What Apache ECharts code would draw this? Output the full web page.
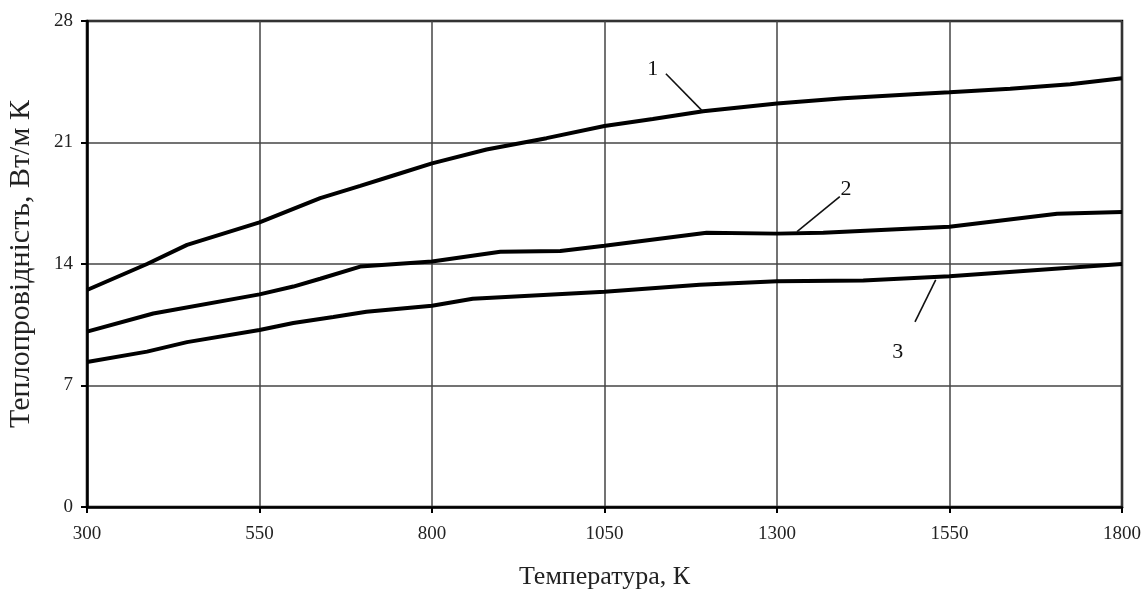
<!DOCTYPE html>
<html>
<head>
<meta charset="utf-8">
<script src="https://cdn.jsdelivr.net/npm/echarts@6/dist/echarts.min.js"></script>
<style>html,body{margin:0;padding:0;background:#fff}#c{width:1145px;height:589px}</style>
</head>
<body>
<div id="c"></div>
<script>
// Curve 1
var temps1 = [300,387,445,550,638,696,744,800,879,966,1050,1120,1193,1300,1396,1503,1550,1638,1725,1800];
var k1 = [12.5,14.0,15.1,16.4,17.8,18.5,19.1,19.8,20.6,21.25,21.95,22.35,22.8,23.25,23.55,23.8,23.9,24.1,24.35,24.7];
// Curve 2
var temps2 = [300,396,550,599,638,696,800,899,986,1050,1198,1300,1367,1550,1706,1800];
var k2 = [10.1,11.15,12.25,12.7,13.15,13.85,14.15,14.7,14.75,15.05,15.8,15.75,15.8,16.15,16.9,17.0];
// Curve 3
var temps3 = [300,387,445,550,599,657,705,800,859,1050,1188,1300,1425,1550,1800];
var k3 = [8.35,8.95,9.5,10.2,10.6,10.95,11.25,11.6,12.0,12.4,12.8,13.0,13.05,13.3,14.0];
// Curve labels and leader lines (data coordinates)
var curveNames = ['1','2','3'];
var leaderStart = [[1139,24.96],[1391,17.88],[1500,10.67]];
var leaderEnd = [[1191,22.85],[1329,15.86],[1530,13.08]];
var labelPos = [[1120,25.2],[1400,18.3],[1475,8.9]];

var xTicks = [300,550,800,1050,1300,1550,1800];
var yTicks = [0,7,14,21,28];

function pairs(xs, ys){ return xs.map(function(x,i){return [x, ys[i]];}); }
var allX = [temps1,temps2,temps3], allY = [k1,k2,k3];
var FONT = '"Liberation Serif", "DejaVu Serif", serif';

var series = allX.map(function(xs, i){
  return {
    type:'line', name: curveNames[i], data: pairs(xs, allY[i]),
    showSymbol:false, smooth:false,
    lineStyle:{color:'#000', width:4},
    markLine:{
      silent:true, symbol:['none','none'],
      lineStyle:{color:'#111', width:1.6, type:'solid'},
      label:{show:false},
      data:[[{coord:leaderStart[i]},{coord:leaderEnd[i]}]]
    },
    markPoint:{
      silent:true, symbol:'circle', symbolSize:0,
      label:{show:true, formatter:curveNames[i], color:'#111', fontSize:22, fontFamily:FONT, position:'inside'},
      data:[{coord:labelPos[i]}]
    }
  };
});

var chart = echarts.init(document.getElementById('c'));
chart.setOption({
  animation:false,
  backgroundColor:'#fff',
  grid:{left:87, right:23, top:21, bottom:82, show:true, borderColor:'#000', borderWidth:2.5,
        containLabel:false, outerBoundsMode:'none'},
  xAxis:{
    type:'value', min:300, max:1800, interval:250,
    name:'Температура, К', nameLocation:'middle', nameGap:57,
    nameTextStyle:{color:'#222', fontSize:26, fontFamily:FONT},
    axisLine:{show:true, lineStyle:{color:'#000', width:2.5}},
    axisTick:{show:true, length:6, lineStyle:{color:'#000', width:2}},
    axisLabel:{color:'#222', fontSize:19, fontFamily:FONT, margin:18,
      formatter:function(v){return xTicks.indexOf(v)>=0? String(v):'';}},
    splitLine:{show:true, lineStyle:{color:'#444', width:1.5}}
  },
  yAxis:{
    type:'value', min:0, max:28, interval:7,
    name:'Теплопровідність, Вт/м К', nameLocation:'middle', nameGap:51, nameRotate:90,
    nameTextStyle:{color:'#222', fontSize:30, fontFamily:FONT},
    axisLine:{show:true, lineStyle:{color:'#000', width:2.5}},
    axisTick:{show:true, length:6, lineStyle:{color:'#000', width:2}},
    axisLabel:{color:'#222', fontSize:19, fontFamily:FONT, margin:14,
      formatter:function(v){return yTicks.indexOf(v)>=0? String(v):'';}},
    splitLine:{show:true, lineStyle:{color:'#444', width:1.5}}
  },
  series:series
});
</script>
</body>
</html>
